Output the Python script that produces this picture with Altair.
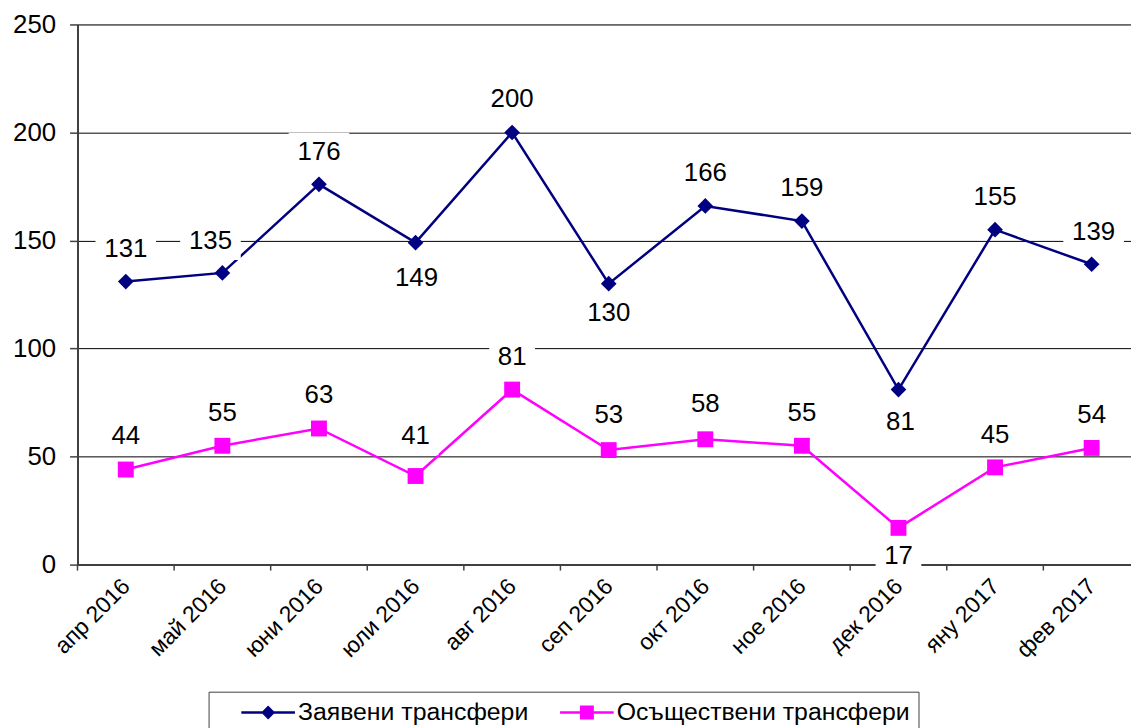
import altair as alt
import pandas as pd

months = ["апр 2016", "май 2016", "юни 2016", "юли 2016", "авг 2016", "сеп 2016",
          "окт 2016", "ное 2016", "дек 2016", "яну 2017", "фев 2017"]
series_names = ["Заявени трансфери", "Осъществени трансфери"]
requested = [131, 135, 176, 149, 200, 130, 166, 159, 81, 155, 139]
completed = [44, 55, 63, 41, 81, 53, 58, 55, 17, 45, 54]
# label placement offsets (pixels) relative to each point
requested_label_dy = [-33, -32, -33, 36, -34, 30, -33, -33, 33, -33, -32]
completed_label_dy = [-34, -33, -34, -40, -33, -35, -35, -33, 28, -33, -33]
requested_label_dx = [0, -12, 0, 1, 0, 0, 0, 0, 2, 0, 2]
completed_label_dx = [0, 0, 0, 0, 0, 0, 0, 0, 0, 0, 0]

rows = []
for i, m in enumerate(months):
    rows.append({"idx": i, "month": m, "series": series_names[0], "value": requested[i],
                 "dy": requested_label_dy[i], "dx": requested_label_dx[i]})
for i, m in enumerate(months):
    rows.append({"idx": i, "month": m, "series": series_names[1], "value": completed[i],
                 "dy": completed_label_dy[i], "dx": completed_label_dx[i]})
df = pd.DataFrame(rows)
ticks_df = pd.DataFrame({"idx": list(range(len(months)))})

NAVY = "#000080"
MAGENTA = "#FF00FF"
FONT = "Liberation Sans"

PLOT_W, PLOT_H = 1061, 544
Y_MAX = 250
# the right-most category band runs past the visible edge of the picture
x_domain = [-0.5, len(months) - 0.5 - 0.0925]

month_lookup = "[" + ",".join("'" + m + "'" for m in months) + "]"

x_scale = alt.Scale(domain=x_domain, nice=False, zero=False)
y_scale = alt.Scale(domain=[0, Y_MAX], nice=False)
color_scale = alt.Scale(domain=series_names, range=[NAVY, MAGENTA])

x_axis = alt.Axis(title=None, values=list(range(len(months))),
                  labelExpr=month_lookup + "[datum.value]",
                  labelAngle=-45, labelAlign="right", labelBaseline="middle",
                  labelFontSize=23, labelFont=FONT, labelColor="black", labelPadding=18,
                  labelOverlap=False, labelBound=False, labelFlush=False,
                  ticks=False, grid=False, domainColor="#404040", domainWidth=2)
x_enc = alt.X("idx:Q", scale=x_scale, axis=x_axis)
y_axis = alt.Axis(title=None, values=[0, 50, 100, 150, 200, 250], grid=True,
                  gridColor="black", gridWidth=1, tickSize=8, tickColor="#404040",
                  tickWidth=1.5, domainColor="#404040", domainWidth=2,
                  labelFontSize=26, labelFont=FONT, labelColor="black", labelPadding=14)
y_enc = alt.Y("value:Q", scale=y_scale, axis=y_axis)
y_lab = alt.Y("label_y:Q", scale=y_scale, axis=y_axis)

base = alt.Chart(df)
req = base.transform_filter(alt.datum.series == series_names[0])
comp = base.transform_filter(alt.datum.series == series_names[1])

line_req = req.mark_line(strokeWidth=2.5, color=NAVY).encode(x=x_enc, y=y_enc)
line_comp = comp.mark_line(strokeWidth=2.5, color=MAGENTA).encode(x=x_enc, y=y_enc)

diamonds = req.mark_point(shape="diamond", filled=True, size=250, opacity=1,
                          strokeWidth=0, color=NAVY).encode(x=x_enc, y=y_enc)
squares = comp.mark_point(shape="square", filled=True, size=256, opacity=1,
                          strokeWidth=0, color=MAGENTA).encode(x=x_enc, y=y_enc)

# legend symbols: a line stub with the marker, in units of 13 px around the symbol centre
legend_paths = [
    "M0.923,-0.096H5.077V0.096H0.923Z M2.46,0L3,-0.54L3.54,0L3,0.54Z",
    "M0.923,-0.096H5.077V0.096H0.923Z M2.46,-0.54H3.54V0.54H2.46Z",
]
legend_def = alt.Legend(
    title=None, orient="none", legendX=132, legendY=672, direction="horizontal",
    strokeColor="#404040", fillColor="white", padding=8, symbolSize=676,
    symbolStrokeWidth=0, symbolOpacity=1, labelFontSize=25, labelFont=FONT,
    labelColor="black", labelOffset=56, columnPadding=6, labelLimit=500,
)
legend_layer = base.mark_point(filled=True, opacity=0).encode(
    x=x_enc, y=y_enc,
    color=alt.Color("series:N", scale=color_scale, legend=legend_def),
    shape=alt.Shape("series:N", scale=alt.Scale(domain=series_names, range=legend_paths),
                    legend=legend_def),
)

px_to_units = Y_MAX / PLOT_H
label_calc = f"datum.value - datum.dy * {px_to_units}"
box3 = "M-1,-0.623H1V0.623H-1Z"
box2 = "M-1,-0.826H1V0.826H-1Z"
boxes_req = req.transform_calculate(label_y=label_calc).mark_point(
    shape=box3, filled=True, color="white", opacity=1, size=3721, strokeWidth=0,
    xOffset=alt.expr("datum.dx"),
).encode(x=x_enc, y=y_lab)
boxes_comp = comp.transform_calculate(label_y=label_calc).mark_point(
    shape=box2, filled=True, color="white", opacity=1, size=2116, strokeWidth=0,
    xOffset=alt.expr("datum.dx"),
).encode(x=x_enc, y=y_lab)

labels = base.transform_calculate(label_y=label_calc).mark_text(
    fontSize=26, font=FONT, color="black", baseline="middle", align="center",
    xOffset=alt.expr("datum.dx"),
).encode(x=x_enc, y=y_lab, text="value:Q")

# category separator ticks below the x axis
xticks = alt.Chart(ticks_df).transform_calculate(edge="datum.idx - 0.5").mark_rule(
    color="#404040", strokeWidth=1.5
).encode(
    x=alt.X("edge:Q", scale=x_scale, axis=x_axis),
    y=alt.Y(datum=0, scale=y_scale),
    y2=alt.value(550),
)

chart = alt.layer(
    line_req, line_comp, diamonds, squares, legend_layer, boxes_req, boxes_comp, labels, xticks
).properties(
    width=PLOT_W, height=PLOT_H,
    padding={"left": 70, "top": 14, "right": 0, "bottom": 162},
    autosize=alt.AutoSizeParams(type="none"),
).configure_view(stroke=None).configure(background="white")

chart.save("out.html", embed_options={"renderer": "svg", "actions": False})
